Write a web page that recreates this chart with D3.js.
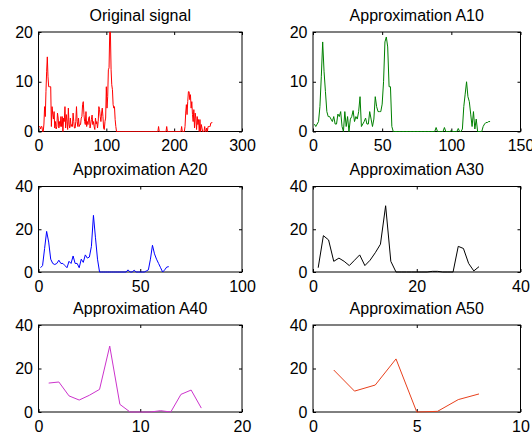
<!DOCTYPE html>
<html>
<head>
<meta charset="utf-8">
<script src="https://cdn.jsdelivr.net/npm/d3@7"></script>
<style>
  body { margin: 0; background: #fff; }
  text { font-family: Arial, "Liberation Sans", sans-serif; }
</style>
</head>
<body>
<div id="vis"></div>
<script>
// Frame size
const FRAME_WIDTH = 532;
const FRAME_HEIGHT = 439;

// Signal values (x runs 1..n)
const ORIGINAL = [
  1,1,0.5,1,1,0,0,1.5,5,3,8,12,15,11,9,9,
  9,9,1,5,3.5,2.5,4,0.7,2,0.5,1,3.7,2.7,0.7,2,1,
  3,1,3,0,2.7,2,5,0.7,3.4,2,0.4,4.7,1.4,0.7,2.7,1,
  1.4,1,3.7,2,0.7,0.7,2,5,2,1,2.7,1,1.4,1.4,2.7,3,
  5.4,6,3.4,2,1.4,4,1,2,1.4,2.7,3,0.7,1.5,2.4,3.3,1.4,
  2,1,0.4,2.7,1.5,2,0.7,2,5,4.4,3,2,3.7,4.7,3,0.7,
  0.4,2,2.7,9,4.7,7,12.4,12.8,20,20,12.4,9.4,8.4,5.4,4.7,5,
  2.4,1,0,0,0,0,0,0,0,0,0,0,0,0,0,0,
  0,0,0,0,0,0,0,0,0,0,0,0,0,0,0,0,
  0,0,0,0,0,0,0,0,0,0,0,0,0,0,0,0,
  0,0,0,0,0,0,0,0,0,0,0,0,0,0,0,0,
  1,0,0,0,0,0,0,0,0,0,0,0,1,0,0,0,
  0,0,0,0,0,0,0,0,0,0,0,0,0,0,0,0,
  0,0,1,0,0,0,0,1,3.7,5.4,3.4,6,8,8,6.4,7.4,
  4.7,6,3.4,2,4.4,0.7,3.7,2.7,0.4,3,1.4,2.4,0,2.4,0,1.4,
  0.7,0,0,0,1,0,0,0.7,0,1,1,1,1,1.7,1.7,1.9
];

const A10 = [
  1.5,1,1.5,2,5,11,18,12,8,4,3,3,2.5,2,3,1.5,
  1.5,3.5,3,4,1,0,4,1,3,0,2.5,3,4.2,2,3,2.5,
  4,7,1,1.5,2,2.7,1.5,1.5,4,2.5,1,2.5,7,5,4,4,
  4,5.5,10,18,19,17,9,9,1,0,0,0,0,0,0,0,
  0,0,0,0,0,0,0,0,0,0,0,0,0,0,0,0,
  0,0,0,0,0,0,0,0,0.8,0,0,0,0,0,0.8,0,
  0,0,0,0.2,0,0,0,0,0.6,0,0,0.5,5,7.5,10,7,
  6,3.5,1,4,0.5,2.5,0,0,0,0,1,1.5,1.8,1.8,2,2
];

const A20 = [
  2,3,11,19,14,6,4,3.5,4,5.5,4,4,3,2,5,4,
  7.5,4,4,2,6,4.5,8,6.5,7,12,26.5,16,6,0,0,0,
  0,0,0,0,0,0,0,0,0,0,0,1,0,0,0.8,0,
  0,0,0,0,0.5,1,6,12.5,8.5,6,4,2,0,1,2.3,2.5
];

const A30 = [
  2,17,15,5,6.5,5,3,5.5,8,3,5.5,9,13,31,5,0,
  0,0,0,0,0,0,0.3,0.3,0,0,0,12,11,4,0.5,2.5
];

const A40 = [13.3,13.8,7.4,5.5,7.7,10.4,30.3,3.5,0,0,0,0.6,0,8.1,10.1,1.8];

const A50 = [19.3,9.6,12.4,24.4,0,0.3,5.7,8.3];

// Panel titles and tick labels
const TITLES = ["Original signal", "Approximation A10", "Approximation A20",
                "Approximation A30", "Approximation A40", "Approximation A50"];
const X_TICKS = [[0, 100, 200, 300], [0, 50, 100, 150], [0, 50, 100],
                 [0, 20, 40], [0, 10, 20], [0, 5, 10]];
const Y_TICKS = [[0, 10, 20], [0, 10, 20], [0, 20, 40],
                 [0, 20, 40], [0, 20, 40], [0, 20, 40]];
const SERIES = [ORIGINAL, A10, A20, A30, A40, A50];

// Layout of the 3x2 grid (pixel edges of each axes box)
const COLS = [{left: 38.5, right: 242}, {left: 313, right: 520.5}];
const ROWS = [{top: 32, bottom: 131.5}, {top: 186.5, bottom: 272}, {top: 325, bottom: 412}];
const COLORS = ["#ff0000", "#008000", "#0000ff", "#000000", "#cc33cc", "#e8401c"];

const FRAME = d3.select("#vis")
                .append("svg")
                  .attr("width", FRAME_WIDTH)
                  .attr("height", FRAME_HEIGHT);

FRAME.append("rect")
     .attr("width", FRAME_WIDTH)
     .attr("height", FRAME_HEIGHT)
     .attr("fill", "#fff");

SERIES.forEach((values, i) => {
  const col = COLS[i % 2];
  const row = ROWS[Math.floor(i / 2)];
  const xTicks = X_TICKS[i];
  const yTicks = Y_TICKS[i];

  const X_SCALE = d3.scaleLinear()
                    .domain([xTicks[0], xTicks[xTicks.length - 1]])
                    .range([col.left, col.right]);
  const Y_SCALE = d3.scaleLinear()
                    .domain([yTicks[0], yTicks[yTicks.length - 1]])
                    .range([row.bottom, row.top]);

  const g = FRAME.append("g");

  // bottom axis with labels, ticks pointing inward
  g.append("g")
   .attr("transform", "translate(0," + row.bottom + ")")
   .call(d3.axisBottom(X_SCALE).tickValues(xTicks).tickSizeInner(-3).tickSizeOuter(0).tickPadding(8.5))
   .call((a) => a.select(".domain").remove())
   .attr("font-size", "16px")
   .attr("font-family", null);

  // top axis, ticks only
  g.append("g")
   .attr("transform", "translate(0," + row.top + ")")
   .call(d3.axisTop(X_SCALE).tickValues(xTicks).tickSizeInner(-3).tickSizeOuter(0).tickFormat(""))
   .call((a) => a.select(".domain").remove());

  // left axis with labels
  g.append("g")
   .attr("transform", "translate(" + col.left + ",0)")
   .call(d3.axisLeft(Y_SCALE).tickValues(yTicks).tickSizeInner(-3).tickSizeOuter(0).tickPadding(5.5))
   .call((a) => a.select(".domain").remove())
   .attr("font-size", "16px")
   .attr("font-family", null);

  // right axis, ticks only
  g.append("g")
   .attr("transform", "translate(" + col.right + ",0)")
   .call(d3.axisRight(Y_SCALE).tickValues(yTicks).tickSizeInner(-3).tickSizeOuter(0).tickFormat(""))
   .call((a) => a.select(".domain").remove());

  // box around the axes
  g.append("rect")
   .attr("x", col.left)
   .attr("y", row.top)
   .attr("width", col.right - col.left)
   .attr("height", row.bottom - row.top)
   .attr("fill", "none")
   .attr("stroke", "#000")
   .attr("stroke-width", 1);

  // the signal line, drawn over the box so the zero runs stay coloured
  const line = d3.line()
                 .x((d, j) => X_SCALE(j + 1))
                 .y((d) => Y_SCALE(d));
  g.append("path")
   .datum(values)
   .attr("fill", "none")
   .attr("stroke", COLORS[i])
   .attr("stroke-width", 1)
   .attr("d", line);

  // title
  g.append("text")
   .attr("x", (col.left + col.right) / 2)
   .attr("y", row.top - 11.5)
   .attr("text-anchor", "middle")
   .attr("font-size", "16px")
   .text(TITLES[i]);
});
</script>
</body>
</html>
